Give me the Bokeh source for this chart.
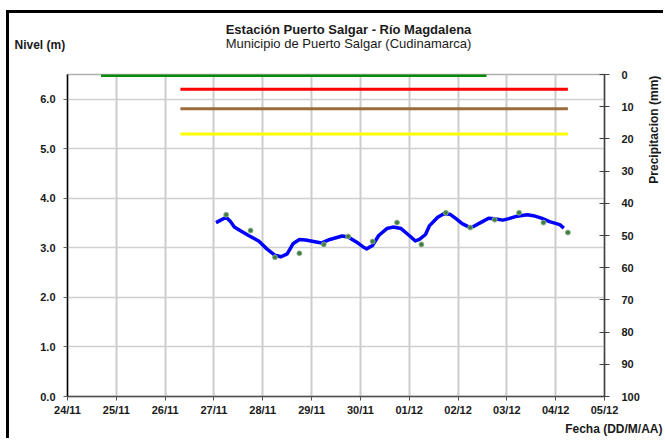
import math
import pandas as pd
from bokeh.plotting import figure
from bokeh.layouts import column, row
from bokeh.models import (Range1d, LinearAxis, FixedTicker, DatetimeTickFormatter,
                          NumeralTickFormatter, Label, ColumnDataSource)
from bokeh.embed import file_html
from bokeh.resources import INLINE

FONT = "Liberation Sans"

# ---- data ----
curve_times = [
    "2013-11-27 01:00", "2013-11-27 06:00", "2013-11-27 08:00", "2013-11-27 10:00",
    "2013-11-27 12:00", "2013-11-27 17:00", "2013-11-27 22:00", "2013-11-28 02:00",
    "2013-11-28 06:00", "2013-11-28 09:00", "2013-11-28 12:00", "2013-11-28 15:00",
    "2013-11-28 18:00", "2013-11-28 21:00", "2013-11-29 01:00", "2013-11-29 05:00",
    "2013-11-29 09:00", "2013-11-29 15:00", "2013-11-29 18:00", "2013-11-29 22:00",
    "2013-11-30 01:00", "2013-11-30 03:00", "2013-11-30 06:00", "2013-11-30 09:00",
    "2013-11-30 13:00", "2013-11-30 16:00", "2013-11-30 20:00", "2013-12-01 00:00",
    "2013-12-01 03:00", "2013-12-01 05:00", "2013-12-01 08:00", "2013-12-01 10:00",
    "2013-12-01 14:00", "2013-12-01 17:00", "2013-12-01 20:00", "2013-12-01 23:00",
    "2013-12-02 02:00", "2013-12-02 06:00", "2013-12-02 08:00", "2013-12-02 12:00",
    "2013-12-02 15:00", "2013-12-02 18:00", "2013-12-02 22:00", "2013-12-03 01:00",
    "2013-12-03 05:00", "2013-12-03 10:00", "2013-12-03 13:00", "2013-12-03 17:00",
    "2013-12-03 21:00", "2013-12-04 02:00", "2013-12-04 04:00",
]
curve_levels = [
    3.51, 3.62, 3.54, 3.42, 3.37, 3.25, 3.14, 2.98,
    2.85, 2.82, 2.88, 3.09, 3.17, 3.16, 3.13, 3.10,
    3.17, 3.24, 3.22, 3.12, 3.03, 2.98, 3.05, 3.25,
    3.39, 3.42, 3.39, 3.25, 3.14, 3.17, 3.27, 3.45,
    3.62, 3.69, 3.68, 3.59, 3.49, 3.41, 3.44, 3.53,
    3.60, 3.59, 3.56, 3.59, 3.64, 3.67, 3.65, 3.60,
    3.53, 3.47, 3.40,
]

obs_times = [
    "2013-11-27 06:00", "2013-11-27 18:00", "2013-11-28 06:00", "2013-11-28 18:00",
    "2013-11-29 06:00", "2013-11-29 18:00", "2013-11-30 06:00", "2013-11-30 18:00",
    "2013-12-01 06:00", "2013-12-01 18:00", "2013-12-02 06:00", "2013-12-02 18:00",
    "2013-12-03 06:00", "2013-12-03 18:00", "2013-12-04 06:00",
]
obs_levels = [3.67, 3.35, 2.81, 2.89, 3.07, 3.23, 3.13, 3.51,
              3.07, 3.71, 3.41, 3.57, 3.71, 3.51, 3.31]

threshold_levels = [6.48, 6.20, 5.81, 5.30]
threshold_starts = ["2013-11-24 16:30", "2013-11-26 07:30", "2013-11-26 07:30", "2013-11-26 07:30"]
threshold_ends = ["2013-12-02 14:00", "2013-12-04 06:00", "2013-12-04 06:00", "2013-12-04 06:00"]
threshold_colors = ["#0a8a0a", "#ff0000", "#9c6b3a", "#ffff00"]

day_ticks = ["2013-11-24", "2013-11-25", "2013-11-26", "2013-11-27", "2013-11-28",
             "2013-11-29", "2013-11-30", "2013-12-01", "2013-12-02", "2013-12-03",
             "2013-12-04", "2013-12-05"]
level_ticks = [0, 1, 2, 3, 4, 5, 6]
precip_ticks = [0, 10, 20, 30, 40, 50, 60, 70, 80, 90, 100]

title_text = "Estación Puerto Salgar - Río Magdalena"
subtitle_text = "Municipio de Puerto Salgar (Cudinamarca)"
ylabel_text = "Nivel (m)"
y2label_text = "Precipitacion (mm)"
xlabel_text = "Fecha (DD/M/AA)"

TXT = "#1a1a1a"


def ms(t):
    return pd.Timestamp(t).value / 1e6


def text_panel(width, height, x0, x1, y_top, y_bottom):
    f = figure(width=width, height=height, x_range=Range1d(x0, x1),
               y_range=Range1d(y_bottom, y_top), x_axis_location=None,
               y_axis_location=None, min_border=0, output_backend="svg",
               toolbar_location=None)
    f.outline_line_color = None
    f.grid.visible = False
    f.background_fill_color = "white"
    f.border_fill_color = "white"
    return f


# ---- main plot ----
p = figure(width=635, height=356, x_axis_type="datetime",
           x_range=Range1d(ms(day_ticks[0]), ms(day_ticks[-1])),
           y_range=Range1d(0, 6.5),
           output_backend="svg", toolbar_location=None,
           min_border_left=58, min_border_right=40, min_border_top=12, min_border_bottom=22)
p.extra_y_ranges = {"precip": Range1d(100, 0)}

p.outline_line_color = "#b0b0b0"
p.outline_line_width = 1.5
p.background_fill_color = "white"
p.border_fill_color = "white"

p.xgrid.ticker = FixedTicker(ticks=[ms(d) for d in day_ticks])
p.xgrid.grid_line_color = "#cccccc"
p.xgrid.grid_line_width = 2
p.ygrid.ticker = FixedTicker(ticks=level_ticks)
p.ygrid.grid_line_color = "#d0d0d0"
p.ygrid.grid_line_width = 1.5

xa = p.xaxis[0]
xa.ticker = FixedTicker(ticks=[ms(d) for d in day_ticks])
xa.formatter = DatetimeTickFormatter(days="%d/%m", months="%d/%m", hours="%d/%m",
                                     hourmin="%d/%m", years="%d/%m")
xa.axis_line_color = "#505050"
xa.axis_line_width = 1.5
xa.major_tick_out = 4
xa.major_tick_in = 0
xa.minor_tick_line_color = None
xa.major_tick_line_color = "#505050"
xa.major_label_text_font = FONT
xa.major_label_text_font_style = "bold"
xa.major_label_text_font_size = "11px"
xa.major_label_text_color = TXT
xa.major_label_standoff = 3

ya = p.yaxis[0]
ya.ticker = FixedTicker(ticks=level_ticks)
ya.formatter = NumeralTickFormatter(format="0.0")
ya.axis_line_color = "black"
ya.axis_line_width = 1.5
ya.major_tick_out = 4
ya.major_tick_in = 0
ya.minor_tick_line_color = None
ya.major_tick_line_color = "#606060"
ya.major_label_text_font = FONT
ya.major_label_text_font_style = "bold"
ya.major_label_text_font_size = "11px"
ya.major_label_text_color = TXT
ya.major_label_standoff = 8

ra = LinearAxis(y_range_name="precip", ticker=FixedTicker(ticks=precip_ticks))
ra.axis_line_color = "#404040"
ra.axis_line_width = 1.5
ra.major_tick_out = 5
ra.major_tick_in = 5
ra.minor_tick_line_color = None
ra.major_tick_line_color = "#404040"
ra.major_label_text_font = FONT
ra.major_label_text_font_style = "bold"
ra.major_label_text_font_size = "11px"
ra.major_label_text_color = TXT
ra.major_label_standoff = 12
p.add_layout(ra, "right")

ts = ColumnDataSource(dict(x0=[ms(t) for t in threshold_starts],
                           x1=[ms(t) for t in threshold_ends],
                           y=threshold_levels, c=threshold_colors))
p.segment(x0="x0", y0="y", x1="x1", y1="y", color="c", line_width=3, source=ts)

p.line([ms(t) for t in curve_times], curve_levels, line_color="#0000ff", line_width=3.5,
       line_join="round")

p.scatter([ms(t) for t in obs_times], obs_levels, size=5, fill_color="#3f7f3f",
          line_color="#9ab59a", line_width=0.8)

# ---- text panels (page coordinates) ----
header = text_panel(654, 49, 9, 663, 13, 62)
header.add_layout(Label(x=348, y=29, text=title_text, text_align="center",
                        text_baseline="middle", text_font=FONT, text_font_style="bold",
                        text_font_size="13px", text_color=TXT))
header.add_layout(Label(x=348, y=43, text=subtitle_text, text_align="center",
                        text_baseline="middle", text_font=FONT, text_font_size="13px",
                        text_color=TXT))
header.add_layout(Label(x=14, y=44, text=ylabel_text, text_align="left",
                        text_baseline="middle", text_font=FONT, text_font_style="bold",
                        text_font_size="12px", text_color=TXT))

side = text_panel(19, 356, 644, 663, 62, 418)
side.add_layout(Label(x=653, y=123, text=y2label_text, text_align="center",
                      text_baseline="middle", angle=math.pi / 2, text_font=FONT,
                      text_font_style="bold", text_font_size="12px", text_color=TXT))

footer = text_panel(654, 20, 9, 663, 418, 438)
footer.add_layout(Label(x=662, y=428, text=xlabel_text, text_align="right",
                        text_baseline="middle", text_font=FONT, text_font_style="bold",
                        text_font_size="12px", text_color=TXT))

root = column(header, row(p, side), footer,
              styles={"margin-left": "6px", "margin-top": "10px",
                      "border-left": "3px solid black", "border-top": "3px solid black"})

open("out.html", "w").write(file_html(root, INLINE))
